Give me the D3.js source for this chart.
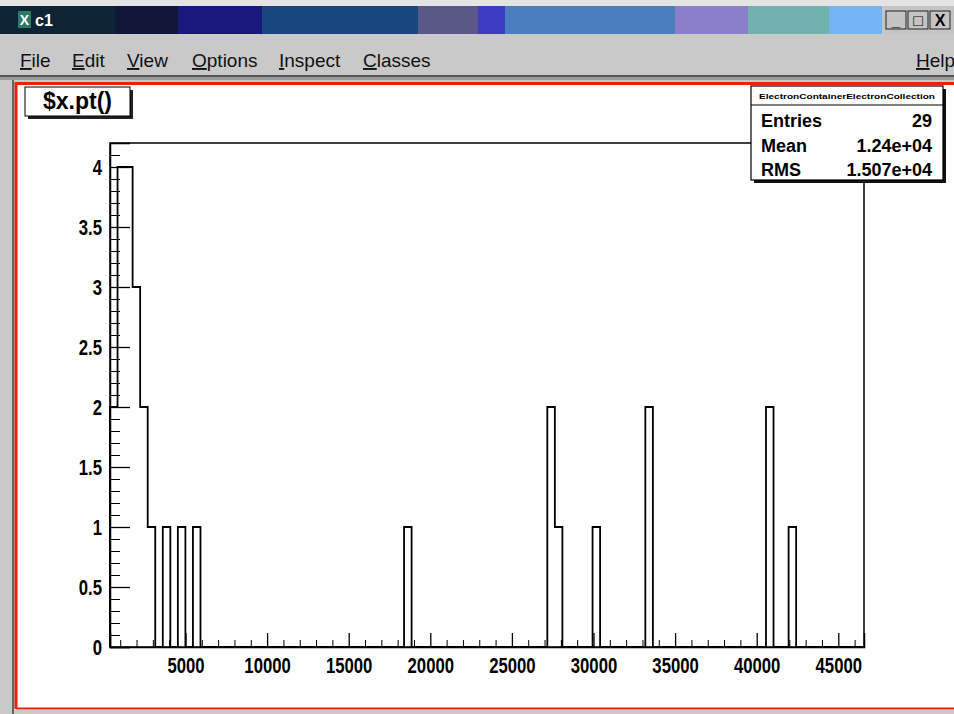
<!DOCTYPE html>
<html>
<head>
<meta charset="utf-8">
<script src="https://cdn.jsdelivr.net/npm/d3@7"></script>
<style>
  body { margin: 0; background: #c8c8c8; overflow: hidden; }
  svg { display: block; }
</style>
</head>
<body>
<div id="chart"></div>
<script>
// Histogram data: non-empty bins (100 bins over the axis range)
const nBins = 100;
const xRange = [374, 46575];
const binIndex = [0, 1, 2, 3, 4, 5, 7, 9, 11, 39, 58, 59, 64, 71, 87, 90];
const binCount = [2, 4, 4, 3, 2, 1, 1, 1, 1, 1, 2, 1, 1, 2, 2, 1];
const yMax = 4.2;

const xMajorTicks = [5000, 10000, 15000, 20000, 25000, 30000, 35000, 40000, 45000];
const yMajorTicks = [0, 0.5, 1, 1.5, 2, 2.5, 3, 3.5, 4];

const histTitle = "$x.pt()";
const statsTitle = "ElectronContainerElectronCollection";
const statsLabels = ["Entries", "Mean", "RMS"];
const statsValues = ["29", "1.24e+04", "1.507e+04"];
const menuItems = ["File", "Edit", "View", "Options", "Inspect", "Classes"];

// Layout
const W = 954, H = 714;
const frame = { left: 110, right: 864, top: 143, bottom: 647 };
const font = "'Liberation Sans', Arial, Helvetica, sans-serif";
const squeeze = 0.76; // axis labels look horizontally condensed

const svg = d3.select("#chart").append("svg")
    .attr("width", W)
    .attr("height", H);

// ---------- window chrome ----------
svg.append("rect").attr("width", W).attr("height", H).attr("fill", "#c9c9c9");
svg.append("rect").attr("width", W).attr("height", 6).attr("fill", "#e4e4e4");

// title bar colour bands
const bands = [
    [0, 115, "#0c2436"], [115, 178, "#10183a"], [178, 262, "#18187e"],
    [262, 418, "#1a4680"], [418, 478, "#5a5888"], [478, 505, "#3c3cc0"],
    [505, 675, "#4a7fbe"], [675, 748, "#8a7fc8"], [748, 829, "#72b2ae"],
    [829, 882, "#74b4f2"], [882, 954, "#c4c4c4"]
];
svg.append("g").selectAll("rect")
    .data(bands)
    .join("rect")
    .attr("x", d => d[0]).attr("y", 6)
    .attr("width", d => d[1] - d[0]).attr("height", 28)
    .attr("fill", d => d[2]);

// icon + caption
svg.append("rect").attr("x", 18).attr("y", 11).attr("width", 13).attr("height", 17).attr("fill", "#2f7a64");
svg.append("text").attr("x", 24.5).attr("y", 25).attr("text-anchor", "middle")
    .attr("fill", "#fff").style("font", `bold 14px ${font}`).text("X");
svg.append("text").attr("x", 35).attr("y", 26)
    .attr("fill", "#fff").style("font", `bold 16px ${font}`).text("c1");

// window buttons
const btns = ["_", "\u25A1", "X"];
const btnG = svg.append("g").selectAll("g")
    .data(btns)
    .join("g")
    .attr("transform", (d, i) => `translate(${886 + i * 22},11)`);
btnG.append("rect").attr("width", 20).attr("height", 18)
    .attr("fill", "#c4c4c4").attr("stroke", "#222").attr("stroke-width", 1);
btnG.append("text").attr("x", 10).attr("y", 15).attr("text-anchor", "middle")
    .attr("fill", "#000").style("font", `bold 16px ${font}`).text(d => d);

// menu bar
const menuX = [20, 72, 127, 192, 279, 363];
const menu = svg.append("g").selectAll("text")
    .data(menuItems)
    .join("text")
    .attr("x", (d, i) => menuX[i]).attr("y", 67)
    .attr("fill", "#111")
    .style("font", `19px ${font}`);
menu.append("tspan").style("text-decoration", "underline").text(d => d[0]);
menu.append("tspan").text(d => d.slice(1));
const help = svg.append("text").attr("x", 916).attr("y", 67).attr("fill", "#111").style("font", `19px ${font}`);
help.append("tspan").style("text-decoration", "underline").text("H");
help.append("tspan").text("elp");

svg.append("rect").attr("x", 0).attr("y", 75).attr("width", W).attr("height", 2).attr("fill", "#555");
svg.append("rect").attr("x", 0).attr("y", 77).attr("width", W).attr("height", 3).attr("fill", "#9a9a9a");

// canvas
svg.append("rect").attr("x", 12).attr("y", 80).attr("width", 2).attr("height", H - 80).attr("fill", "#666");
svg.append("rect").attr("x", 15).attr("y", 82).attr("width", W - 15).attr("height", 628)
    .attr("fill", "#fff");
svg.append("path")
    .attr("d", `M16,${H - 5} V83.5 H${W}`)
    .attr("fill", "none").attr("stroke", "#e8200c").attr("stroke-width", 3);
svg.append("path")
    .attr("d", `M16,${H - 5.5} H${W}`)
    .attr("fill", "none").attr("stroke", "#e8200c").attr("stroke-width", 2);

// ---------- plot ----------
const x = d3.scaleLinear().domain(xRange).range([frame.left, frame.right]);
const y = d3.scaleLinear().domain([0, yMax]).range([frame.bottom, frame.top]);

const bw = (xRange[1] - xRange[0]) / nBins;
const counts = new Array(nBins).fill(0);
binIndex.forEach((b, i) => { counts[b] = binCount[i]; });

const plot = svg.append("g");

// frame
plot.append("rect")
    .attr("x", frame.left).attr("y", frame.top)
    .attr("width", frame.right - frame.left).attr("height", frame.bottom - frame.top)
    .attr("fill", "none").attr("stroke", "#000").attr("stroke-width", 1.5);

// histogram outline
const pts = [[xRange[0], 0]];
counts.forEach((c, i) => pts.push([xRange[0] + i * bw, c]));
pts.push([xRange[1], 0]);
const step = d3.line()
    .x(d => x(d[0]))
    .y(d => y(d[1]))
    .curve(d3.curveStepAfter);
plot.append("path")
    .attr("d", step(pts))
    .attr("fill", "none")
    .attr("stroke", "#000")
    .attr("stroke-width", 1.8);

// x axis
const xMinor = d3.range(1000, xRange[1], 1000).filter(v => v % 5000 !== 0);
plot.append("g")
    .attr("transform", `translate(0,${frame.bottom})`)
    .call(d3.axisBottom(x).tickValues(xMinor).tickSize(-7).tickFormat(""))
    .call(g => g.select(".domain").remove());
const xAxis = plot.append("g")
    .attr("transform", `translate(0,${frame.bottom})`)
    .call(d3.axisBottom(x).tickValues(xMajorTicks).tickSize(-14).tickPadding(10).tickFormat(d3.format("d")));
xAxis.select(".domain").attr("stroke-width", 1.5);
xAxis.selectAll(".tick line").attr("stroke-width", 1.3);
xAxis.selectAll("text")
    .attr("y", 26).attr("dy", null)
    .attr("transform", `scale(${squeeze},1)`)
    .style("font", `bold 22px ${font}`).attr("fill", "#000");

// y axis
const yMinor = d3.range(0, yMax + 0.001, 0.1);
plot.append("g")
    .attr("transform", `translate(${frame.left},0)`)
    .call(d3.axisLeft(y).tickValues(yMinor).tickSize(-10).tickFormat(""))
    .call(g => g.select(".domain").remove());
const yAxis = plot.append("g")
    .attr("transform", `translate(${frame.left},0)`)
    .call(d3.axisLeft(y).tickValues(yMajorTicks).tickSize(-20).tickPadding(8).tickFormat(d3.format("")));
yAxis.select(".domain").attr("stroke-width", 1.5);
yAxis.selectAll(".tick line").attr("stroke-width", 1.3);
yAxis.selectAll("text")
    .attr("x", -8 / squeeze).attr("dy", "0.36em")
    .attr("transform", `scale(${squeeze},1)`)
    .style("font", `bold 22px ${font}`).attr("fill", "#000");

// ---------- title box ----------
const tb = { x: 25, y: 87, w: 105, h: 29 };
svg.append("rect").attr("x", tb.x + 3).attr("y", tb.y + 3).attr("width", tb.w).attr("height", tb.h).attr("fill", "#222");
svg.append("rect").attr("x", tb.x).attr("y", tb.y).attr("width", tb.w).attr("height", tb.h)
    .attr("fill", "#fff").attr("stroke", "#000").attr("stroke-width", 1);
svg.append("text").attr("x", tb.x + tb.w / 2).attr("y", tb.y + 22).attr("text-anchor", "middle")
    .style("font", `bold 23px ${font}`).attr("fill", "#000").text(histTitle);

// ---------- stats box ----------
const sb = { x: 751, y: 86, w: 192, h: 94, head: 19, row: 24.5 };
svg.append("rect").attr("x", sb.x + 3).attr("y", sb.y + 3).attr("width", sb.w).attr("height", sb.h).attr("fill", "#111");
svg.append("rect").attr("x", sb.x).attr("y", sb.y).attr("width", sb.w).attr("height", sb.h)
    .attr("fill", "#fff").attr("stroke", "#000").attr("stroke-width", 1.2);
svg.append("line").attr("x1", sb.x).attr("x2", sb.x + sb.w)
    .attr("y1", sb.y + sb.head).attr("y2", sb.y + sb.head)
    .attr("stroke", "#000").attr("stroke-width", 1.2);
svg.append("text").attr("x", sb.x + 8).attr("y", sb.y + 12.5)
    .attr("textLength", sb.w - 16).attr("lengthAdjust", "spacingAndGlyphs")
    .style("font", `bold 8px ${font}`).attr("fill", "#000").text(statsTitle);
const rows = svg.append("g").selectAll("g")
    .data(statsLabels)
    .join("g")
    .attr("transform", (d, i) => `translate(0,${sb.y + sb.head + 22 + i * sb.row})`);
rows.append("text").attr("x", sb.x + 10)
    .style("font", `bold 18px ${font}`).attr("fill", "#000").text(d => d);
rows.append("text").attr("x", sb.x + sb.w - 11).attr("text-anchor", "end")
    .style("font", `bold 18px ${font}`).attr("fill", "#000").text((d, i) => statsValues[i]);
</script>
</body>
</html>
